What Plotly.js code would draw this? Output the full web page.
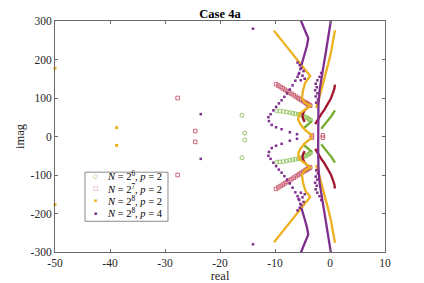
<!DOCTYPE html>
<html><head><meta charset="utf-8">
<script src="https://cdn.plot.ly/plotly-3.0.1.min.js"></script>
<style>html,body{margin:0;padding:0;background:#fff}</style>
</head><body><div id="chart" style="width:424px;height:283px"></div>
<script>
// ---- Series names ----
const seriesNames = ['<i>N</i> = 2<sup>6</sup>, <i>p</i> = 2', '<i>N</i> = 2<sup>7</sup>, <i>p</i> = 2',
                     '<i>N</i> = 2<sup>8</sup>, <i>p</i> = 2', '<i>N</i> = 2<sup>8</sup>, <i>p</i> = 4'];
const legendGlyphs = ['○', '□', '▪', '▪'];
const xTicks = [-50, -40, -30, -20, -10, 0, 10];
const yTicks = [-300, -200, -100, 0, 100, 200, 300];

// ---- N=2^6, p=2 (green circles) ----
const gIsoX = [-16.0, -15.5, -15.5, -16.0];
const gIsoY = [55, 9, -9, -55];
const gBranchX = [-9.7,-9.1,-8.5,-7.9,-7.3,-6.8,-6.3,-5.8,-5.4,-5.0,-4.7,-4.4,-4.1,-3.9,-3.7,-3.5];
const gBranchYUp = [67,66,65,63.5,62,60.5,59,57.5,56,54,52,50,48,46,44,42];
const gBranchYDn = [-67,-66,-65,-63.5,-62,-60.5,-59,-57.5,-56,-54,-52,-50,-48,-46,-44,-42];
const gInnerX = [-3.3,-3.6,-4.0,-4.3,-4.6,-4.7];
const gInnerYUp = [40,36,32,28,24,20];
const gInnerYDn = [-40,-36,-32,-28,-24,-20];
const gRightX = [-1.6,-1.3,-0.9,-0.5,-0.1,0.3,0.6,0.8,0.9];
const gRightYUp = [20,26,33,40,47,54,60,65,68];
const gRightYDn = [-20,-26,-33,-40,-47,-54,-60,-65,-68];

// ---- N=2^7, p=2 (red squares) ----
const rIsoX = [-27.7, -24.5, -24.5, -27.7, -3.3, -3.3, -1.3, -1.3];
const rIsoY = [100, 14, -14, -100, 3, -3, 3, -3];
const rBranchX = [-9.8,-9.4,-9.0,-8.6,-8.2,-7.8,-7.4,-7.0,-6.6,-6.2,-5.8,-5.5,-5.2,-4.9,-4.6,-4.4,-4.2,-4.0,-3.8,-3.6];
const rBranchYUp = [136,132.4,128.8,125.2,121.6,118,114.4,110.8,107.2,103.6,100,97.3,94.6,91.9,89.2,87.4,85.6,83.8,82,80.2];
const rBranchYDn = [-136,-132.4,-128.8,-125.2,-121.6,-118,-114.4,-110.8,-107.2,-103.6,-100,-97.3,-94.6,-91.9,-89.2,-87.4,-85.6,-83.8,-82,-80.2];
const rInnerX = [-3.6,-4.2,-4.7,-5.0,-4.9,-4.6];
const rInnerYUp = [80,74,66,56,46,38];
const rInnerYDn = [-80,-74,-66,-56,-46,-38];
const rRightX = [-2.7,-2.4,-2.0,-1.5,-1.0,-0.6,-0.2,0.2,0.5,0.8,0.9];
const rRightYUp = [32,40,50,60,70,80,90,100,112,124,135];
const rRightYDn = [-32,-40,-50,-60,-70,-80,-90,-100,-112,-124,-135];

// ---- N=2^8, p=2 (orange dots) ----
const oIsoX = [-50, -38.8, -38.8, -50];
const oIsoY = [177, 23, -23, -177];
const oLeftX = [-10.2,-3.6,-4.5,-4.9,-5.1,-4.6,-3.6,-4.6,-5.6,-5.8,-5.4,-4.6,-3.8,-3.2];
const oLeftYUp = [275,157,140,120,100,88,80,70,58,45,32,18,8,2];
const oLeftYDn = [-275,-157,-140,-120,-100,-88,-80,-70,-58,-45,-32,-18,-8,-2];
const oRightX = [0.9,0.6,0.2,-0.3,-0.8,-1.2,-1.6,-1.9,-2.2,-2.4,-2.5];
const oRightYUp = [276,250,220,190,163,137,115,100,88,80,74];
const oRightYDn = [-276,-250,-220,-190,-163,-137,-115,-100,-88,-80,-74];

// ---- N=2^8, p=4 (purple dots) ----
const pIsoX = [-14, -23.5, -23.5, -14];
const pIsoY = [280, 58, -58, -280];
const pLeftX = [-5.4,-4.9,-4.4,-3.95,-4.2,-4.6,-5.0,-5.2];
const pLeftYUp = [305,285,270,255,235,215,195,185];
const pLeftYDn = [-305,-285,-270,-255,-235,-215,-195,-185];
const pLoopX = [-5.4,-5.6,-5.9,-6.3,-6.8,-7.3,-7.8,-8.3,-8.8,-9.3,-9.8,-10.3,-10.8,-11.2,-11.1,-10.6,-9.8,-8.8,-7.3,-6.0];
const pLoopYUp = [175,165,155,145,133,122,112,103,94,86,77,68,58,50,40,30,24,19,11,6];
const pLoopYDn = [-175,-165,-155,-145,-133,-122,-112,-103,-94,-86,-77,-68,-58,-50,-40,-30,-24,-19,-11,-6];
const pScatX = [-5.9,-5.5,-5.2,-4.8,-5.7,-5.0,-4.6,-5.3,-1.6,-1.9,-2.3,-2.6,-2.4,-2.7,-2.3,-2.6,-2.2,-2.5];
const pScatYUp = [192,185,178,170,162,158,150,146,165,155,146,137,128,120,112,104,96,88];
const pScatYDn = [-192,-185,-178,-170,-162,-158,-150,-146,-165,-155,-146,-137,-128,-120,-112,-104,-96,-88];
const pRightX = [0.2,-0.1,-0.4,-0.7,-1.1,-1.5,-1.9,-2.1,-2.15,-2.15,-2.1,-1.9,-1.5,-1.1,-0.7,-0.4,-0.1,0.2];
const pRightY = [305,275,250,224,190,155,120,80,30,-30,-80,-120,-155,-190,-224,-250,-275,-305];

const cG = '#77AC30', cR = '#A2142F', cO = '#EDB120', cP = '#7E2F8E';
const cRLight = '#C8596E';
const legendColors = [cG, cRLight, cO, cP];
const lw = 2.3;

function lineTr(x, y, c, grp) {
  return {type:'scatter', mode:'lines', x:x, y:y, line:{color:c, width:lw}, showlegend:false, legendgroup:grp, hoverinfo:'skip'};
}

const traces = [];
// green
traces.push({type:'scatter', mode:'markers', name:seriesNames[0], legendgroup:'g', showlegend:false,
  x:[...gIsoX, ...gBranchX, ...gBranchX], y:[...gIsoY, ...gBranchYUp, ...gBranchYDn],
  marker:{symbol:'circle-open', size:4, color:'#8DBE55', line:{width:0.9, color:'#8DBE55'}}});
traces.push(lineTr(gInnerX, gInnerYUp, cG, 'g'));
traces.push(lineTr(gInnerX, gInnerYDn, cG, 'g'));
traces.push(lineTr(gRightX, gRightYUp, cG, 'g'));
traces.push(lineTr(gRightX, gRightYDn, cG, 'g'));
// red
traces.push({type:'scatter', mode:'markers', name:seriesNames[1], legendgroup:'r', showlegend:false,
  x:[...rIsoX, ...rBranchX, ...rBranchX], y:[...rIsoY, ...rBranchYUp, ...rBranchYDn],
  marker:{symbol:'square-open', size:3.6, color:cRLight, line:{width:0.9, color:cRLight}}});
traces.push(lineTr(rInnerX, rInnerYUp, cR, 'r'));
traces.push(lineTr(rInnerX, rInnerYDn, cR, 'r'));
traces.push(lineTr(rRightX, rRightYUp, cR, 'r'));
traces.push(lineTr(rRightX, rRightYDn, cR, 'r'));
// orange
traces.push({type:'scatter', mode:'markers', name:seriesNames[2], legendgroup:'o', showlegend:false, cliponaxis:false,
  x:oIsoX, y:oIsoY, marker:{symbol:'square', size:3, color:cO}});
traces.push(lineTr(oLeftX, oLeftYUp, cO, 'o'));
traces.push(lineTr(oLeftX, oLeftYDn, cO, 'o'));
traces.push(lineTr(oRightX, oRightYUp, cO, 'o'));
traces.push(lineTr(oRightX, oRightYDn, cO, 'o'));
// purple
traces.push({type:'scatter', mode:'markers', name:seriesNames[3], legendgroup:'p', showlegend:false,
  x:[...pIsoX, ...pLoopX, ...pLoopX, ...pScatX, ...pScatX],
  y:[...pIsoY, ...pLoopYUp, ...pLoopYDn, ...pScatYUp, ...pScatYDn],
  marker:{symbol:'square', size:2.5, color:cP}});
traces.push(lineTr(pLeftX, pLeftYUp, cP, 'p'));
traces.push(lineTr(pLeftX, pLeftYDn, cP, 'p'));
traces.push(lineTr(pRightX, pRightY, cP, 'p'));

const fontFam = 'Liberation Serif, Times New Roman, serif';
const axisCommon = {showgrid:false, zeroline:false, showline:true, mirror:'ticks', linecolor:'#6a6a6a', linewidth:1,
  ticks:'inside', ticklen:3, tickcolor:'#6a6a6a', tickfont:{family:fontFam, size:11.5, color:'#262626'}, fixedrange:true};

// custom compact legend (box + entries)
const legBox = {x0:0.0909, x1:0.3424, y0:0.133, y1:0.3455};
const legRowY = [0.331, 0.277, 0.223, 0.169];
const annotations = [];
seriesNames.forEach((nm, i) => {
  annotations.push({xref:'paper', yref:'paper', x:0.1233, y:legRowY[i], xanchor:'center', yanchor:'middle', showarrow:false,
    text:legendGlyphs[i], font:{family:'DejaVu Sans', size: i < 2 ? 5.5 : 5, color:legendColors[i]}});
  annotations.push({xref:'paper', yref:'paper', x:0.152, y:legRowY[i], xanchor:'left', yanchor:'middle', showarrow:false,
    text:nm, font:{family:fontFam, size:10.5, color:'#000'}});
});

const layout = {
  width:424, height:283,
  margin:{l:55, r:39, t:21, b:31},
  paper_bgcolor:'#fff', plot_bgcolor:'#fff',
  font:{family:fontFam, color:'#262626'},
  title:{text:'<b>Case 4a</b>', font:{family:fontFam, size:12.5, color:'#000'}, xref:'paper', x:0.5, y:0.952, yanchor:'middle'},
  xaxis:Object.assign({}, axisCommon, {range:[-50,10], tickvals:xTicks, ticktext:xTicks.map(String),
    title:{text:'real', font:{family:fontFam, size:12.5, color:'#262626'}, standoff:5}}),
  yaxis:Object.assign({}, axisCommon, {range:[-300,300], tickvals:yTicks, ticktext:yTicks.map(String),
    title:{text:'imag', font:{family:fontFam, size:12.5, color:'#262626'}, standoff:3}}),
  shapes:[{type:'rect', xref:'paper', yref:'paper', x0:legBox.x0, x1:legBox.x1, y0:legBox.y0, y1:legBox.y1,
    fillcolor:'#fff', line:{color:'#8a8a8a', width:1}, layer:'above'}],
  annotations:annotations,
  showlegend:false
};

Plotly.newPlot('chart', traces, layout, {displayModeBar:false, staticPlot:true});
</script></body></html>
